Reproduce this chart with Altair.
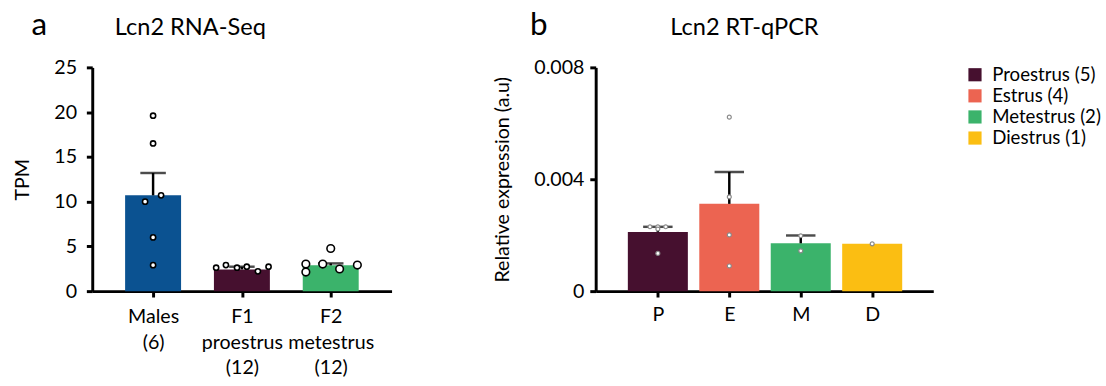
import json
import altair as alt
import pandas as pd

FONT = "Lato"

# ---------------- Panel a: Lcn2 RNA-Seq ----------------
groups_a = ["Males\n(6)", "F1\nproestrus\n(12)", "F2\nmetestrus\n(12)"]
colors_a = ["#0b5291", "#46102f", "#3bb36b"]
mean_a = [10.7, 2.43, 2.88]
sem_a = [2.5, 0.3, 0.22]
pts_a_group = [0, 0, 0, 0, 0, 0, 1, 1, 1, 1, 1, 1, 2, 2, 2, 2, 2, 2]
pts_a_value = [19.6, 16.5, 10.7, 10.0, 6.0, 2.9,
               2.62, 2.91, 2.62, 2.73, 2.21, 2.73,
               3.02, 2.13, 3.02, 4.76, 2.47, 2.91]
# horizontal scatter of the dots, as a fraction of one category step
pts_a_jitter = [0, 0, 0.09, -0.09, 0, 0,
                -0.29, -0.18, -0.055, 0.055, 0.18, 0.3,
                -0.28, -0.28, -0.09, 0, 0.1, 0.3]

# ---------------- Panel b: Lcn2 RT-qPCR ----------------
stages_b = ["P", "E", "M", "D"]
labels_b = ["Proestrus (5)", "Estrus (4)", "Metestrus (2)", "Diestrus (1)"]
colors_b = ["#46102f", "#ec6451", "#3bb36b", "#fbbe12"]
mean_b = [0.00211, 0.00312, 0.00171, 0.00169]
sem_b = [0.00019, 0.00114, 0.00028, 0.0]
pts_b_group = [0, 0, 0, 0, 0, 1, 1, 1, 1, 2, 2, 3]
pts_b_value = [0.0023, 0.0023, 0.00222, 0.0023, 0.00135,
               0.00622, 0.00337, 0.00201, 0.0009,
               0.00198, 0.00144, 0.00169]
pts_b_jitter = [-0.11, 0, 0, 0.11, 0, 0, 0, 0, 0, 0, 0, 0]

HALF_A = 0.315   # half bar width (category units)
HALF_B = 0.42

# ---------------- tables ----------------
bars_a = pd.DataFrame({
    "i": list(range(len(groups_a))),
    "x0": [i - HALF_A for i in range(len(groups_a))],
    "x1": [i + HALF_A for i in range(len(groups_a))],
    "mean": mean_a, "top": [m + s for m, s in zip(mean_a, sem_a)], "color": colors_a})
points_a = pd.DataFrame({"x": [g + j for g, j in zip(pts_a_group, pts_a_jitter)],
                         "v": pts_a_value, "big": [g == 2 for g in pts_a_group]})
bars_b = pd.DataFrame({
    "i": list(range(len(stages_b))),
    "x0": [i - HALF_B for i in range(len(stages_b))],
    "x1": [i + HALF_B for i in range(len(stages_b))],
    "lab": labels_b, "mean": mean_b,
    "top": [m + s for m, s in zip(mean_b, sem_b)], "sem": sem_b})
points_b = pd.DataFrame({"x": [g + j for g, j in zip(pts_b_group, pts_b_jitter)], "v": pts_b_value})

axis_common = dict(domainColor="black", domainWidth=3, tickColor="black", tickWidth=3,
                   labelFont=FONT, labelFontSize=20, labelColor="black",
                   titleFont=FONT, titleFontSize=20, titleFontWeight="normal", titleColor="black",
                   grid=False)

lines_a = json.dumps([g.split("\n") for g in groups_a])
lines_b = json.dumps(stages_b)

H = 228

# ----- panel a -----
xa_scale = alt.Scale(domain=[-0.685, 2.685], nice=False, zero=False)
ya_scale = alt.Scale(domain=[0, 25], nice=False)

bars_a_ch = alt.Chart(bars_a).mark_bar().encode(
    x=alt.X("x0:Q", scale=xa_scale, title=None,
            axis=alt.Axis(values=list(range(len(groups_a))), tickSize=6, labelPadding=10,
                          labelLineHeight=26, labelFlush=False, labelOverlap=False,
                          labelExpr=f"{lines_a}[datum.value]", **axis_common)),
    x2="x1:Q",
    y=alt.Y("mean:Q", scale=ya_scale, title="TPM",
            axis=alt.Axis(values=[0, 5, 10, 15, 20, 25], tickSize=6, labelPadding=10,
                          titlePadding=22, **axis_common)),
    y2=alt.datum(0),
    color=alt.Color("color:N", scale=None),
)
err_a = alt.Chart(bars_a).mark_rule(color="black", strokeWidth=2.5).encode(
    x=alt.X("i:Q", scale=xa_scale), y=alt.Y("mean:Q", scale=ya_scale), y2="top:Q")
cap_a = alt.Chart(bars_a).mark_tick(color="black", thickness=2.5, size=26,
                                    orient="horizontal").encode(
    x=alt.X("i:Q", scale=xa_scale), y=alt.Y("top:Q", scale=ya_scale))
pts_a_ch = alt.Chart(points_a).mark_point(shape="circle", fill="white", stroke="black",
                                          strokeWidth=1.6, opacity=1, fillOpacity=1).encode(
    x=alt.X("x:Q", scale=xa_scale),
    y=alt.Y("v:Q", scale=ya_scale),
    size=alt.condition("datum.big", alt.value(60), alt.value(28)),
)
title_a = alt.Chart(pd.DataFrame({"t": ["Lcn2 RNA-Seq"]})).mark_text(
    align="left", baseline="alphabetic", font=FONT, fontSize=24, color="black").encode(
    text="t:N", x=alt.value(23), y=alt.value(-33))
letter_a = alt.Chart(pd.DataFrame({"t": ["a"]})).mark_text(
    align="left", baseline="alphabetic", font=FONT, fontSize=32, color="black").encode(
    text="t:N", x=alt.value(-62), y=alt.value(-33))

panel_a = alt.layer(bars_a_ch, err_a, cap_a, pts_a_ch, title_a, letter_a).properties(
    width=305, height=H)

# ----- panel b -----
xb_scale = alt.Scale(domain=[-0.87, 3.855], nice=False, zero=False)
yb_scale = alt.Scale(domain=[0, 0.008], nice=False)

bars_b_ch = alt.Chart(bars_b).mark_bar().encode(
    x=alt.X("x0:Q", scale=xb_scale, title=None,
            axis=alt.Axis(values=list(range(len(stages_b))), tickSize=6, labelPadding=8,
                          labelFlush=False, labelOverlap=False,
                          labelExpr=f"{lines_b}[datum.value]", **axis_common)),
    x2="x1:Q",
    y=alt.Y("mean:Q", scale=yb_scale, title="Relative expression (a.u)",
            axis=alt.Axis(values=[0, 0.004, 0.008], tickSize=6, labelPadding=6,
                          titlePadding=22,
                          labelExpr="datum.value == 0 ? '0' : format(datum.value, '.3f')",
                          **axis_common)),
    y2=alt.datum(0),
    color=alt.Color("lab:N", sort=labels_b,
                    scale=alt.Scale(domain=labels_b, range=colors_b),
                    legend=alt.Legend(title=None, orient="none", legendX=377, legendY=-2,
                                      symbolType="square", symbolSize=180, symbolStrokeWidth=0,
                                      labelFont=FONT, labelFontSize=19, labelColor="black",
                                      rowPadding=1.5, labelOffset=8, padding=0)),
)
err_b = alt.Chart(bars_b).transform_filter("datum.sem > 0").mark_rule(
    color="black", strokeWidth=2.5).encode(
    x=alt.X("i:Q", scale=xb_scale), y=alt.Y("mean:Q", scale=yb_scale), y2="top:Q")
cap_b = alt.Chart(bars_b).transform_filter("datum.sem > 0").mark_tick(
    color="black", thickness=2.5, size=30, orient="horizontal").encode(
    x=alt.X("i:Q", scale=xb_scale), y=alt.Y("top:Q", scale=yb_scale))
pts_b_ch = alt.Chart(points_b).mark_point(shape="circle", fill="white", stroke="#8a8a8a",
                                          strokeWidth=1.2, size=16, opacity=1, fillOpacity=1).encode(
    x=alt.X("x:Q", scale=xb_scale),
    y=alt.Y("v:Q", scale=yb_scale),
)
title_b = alt.Chart(pd.DataFrame({"t": ["Lcn2 RT-qPCR"]})).mark_text(
    align="left", baseline="alphabetic", font=FONT, fontSize=24, color="black").encode(
    text="t:N", x=alt.value(76), y=alt.value(-33))
letter_b = alt.Chart(pd.DataFrame({"t": ["b"]})).mark_text(
    align="left", baseline="alphabetic", font=FONT, fontSize=32, color="black").encode(
    text="t:N", x=alt.value(-67), y=alt.value(-33))

panel_b = alt.layer(bars_b_ch, err_b, cap_b, pts_b_ch, title_b, letter_b).properties(
    width=344, height=H)

chart = alt.hconcat(panel_a, panel_b, spacing=102).resolve_scale(
    color="independent"
).properties(
    padding={"left": 12, "top": 6, "right": 5, "bottom": 5},
    background="white",
).configure_view(stroke=None)

chart.save("out.html", embed_options={"renderer": "svg", "actions": False})
